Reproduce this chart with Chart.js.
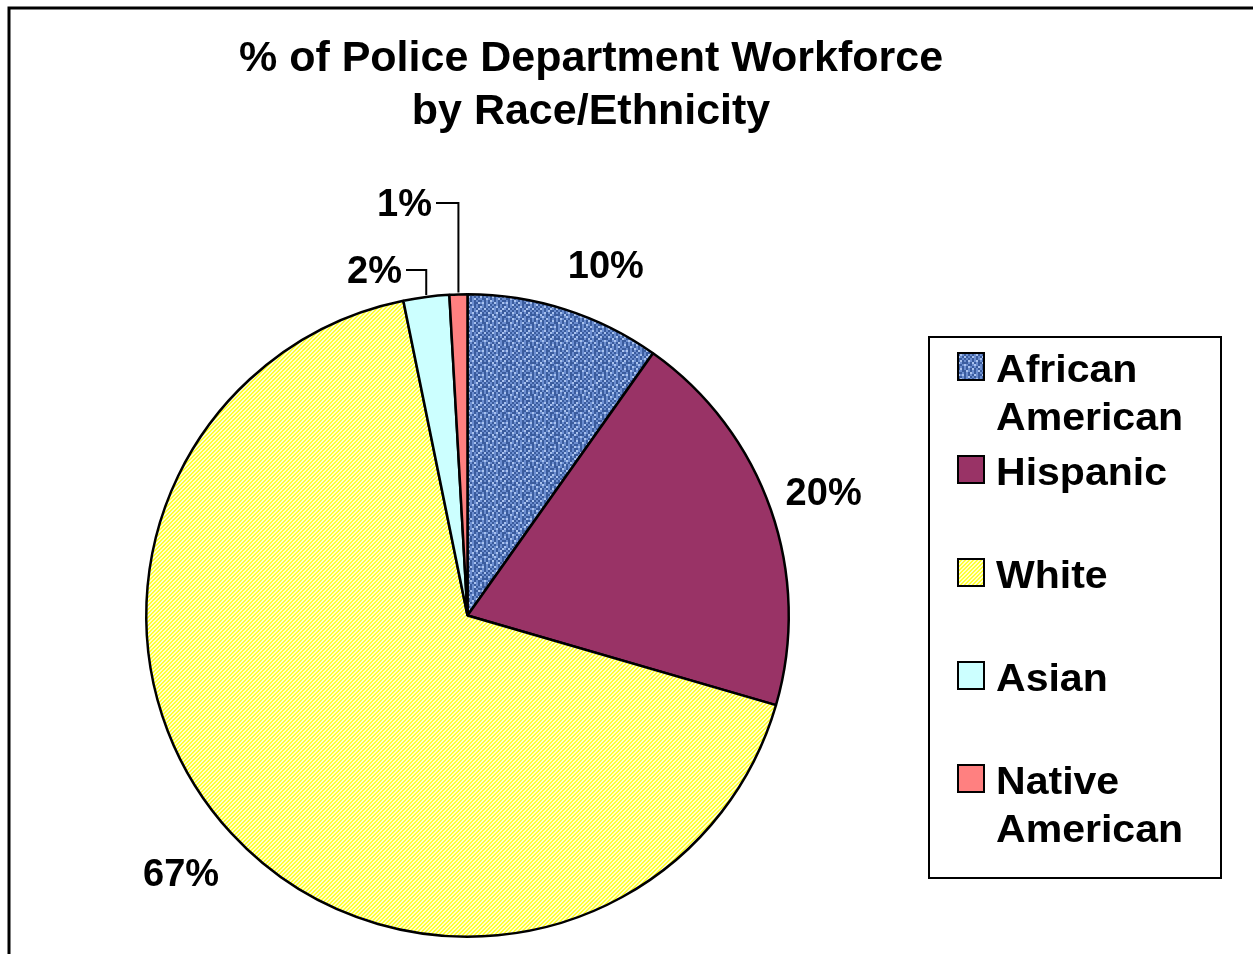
<!DOCTYPE html>
<html>
<head>
<meta charset="utf-8">
<script src="https://cdn.jsdelivr.net/npm/chart.js@4.4.0/dist/chart.umd.min.js"></script>
<style>
  html, body { margin: 0; padding: 0; background: #fff; }
  #wrap { width: 1253px; height: 954px; position: relative; }
</style>
</head>
<body>
<div id="wrap"><canvas id="pieChart" width="1253" height="954"></canvas></div>
<script>
// chart values
const categories = ['African American', 'Hispanic', 'White', 'Asian', 'Native American'];
const shares = [9.8, 19.7, 67.3, 2.3, 0.9];
const chartTitle = ['% of Police Department Workforce', 'by Race/Ethnicity'];

const FONT = '"Liberation Sans", Arial, sans-serif';

// blue woven texture for African American
function wovenPattern() {
  const rows = [
    'ldmdlmdmldmd',
    'mdddmdldmddl',
    'dmlmddmlmdmd',
    'mdmdlmdmdlmd',
    'ldmdmdldmdmd',
    'mddlmdmdmldm',
    'dmdmdlmdmdmd',
    'mldmdmdlmddl',
    'dmdmldmdmdmd',
    'lmdmdmdmldmd',
    'mdldmdlmdmdl',
    'dmdmdmdmdmld'
  ];
  const colors = { l: '#a9c2ee', m: '#6b8dcf', d: '#3a5c9e' };
  const c = document.createElement('canvas');
  c.width = 24; c.height = 24;
  const g = c.getContext('2d');
  // each map cell is 2x2 px to get a coarser weave
  rows.forEach((row, y) => {
    for (let x = 0; x < row.length; x++) {
      g.fillStyle = colors[row[x]];
      g.fillRect(x * 2, y * 2, 2, 2);
    }
  });
  return g.createPattern(c, 'repeat');
}

// fine diagonal yellow hatch for White
function hatchPattern() {
  const c = document.createElement('canvas');
  c.width = 4; c.height = 4;
  const g = c.getContext('2d');
  for (let y = 0; y < 4; y++) {
    for (let x = 0; x < 4; x++) {
      g.fillStyle = ((x + y) % 4 < 2) ? '#ffff33' : '#ffffd0';
      g.fillRect(x, y, 1, 1);
    }
  }
  return g.createPattern(c, 'repeat');
}

const ctx = document.getElementById('pieChart').getContext('2d');
const fills = [wovenPattern(), '#993366', hatchPattern(), '#ccffff', '#ff8080'];

// nudges for the outside labels (px)
const labelNudge = [[24, 12], [0, 3], [-9, 4]];

const decorations = {
  id: 'decorations',
  afterDraw(chart) {
    const c = chart.ctx;
    const arcs = chart.getDatasetMeta(0).data;
    c.save();

    // outer frame
    c.strokeStyle = '#000';
    c.lineWidth = 3;
    c.strokeRect(9, 8, 2000, 2000);

    // title
    c.fillStyle = '#000';
    c.textAlign = 'center';
    c.textBaseline = 'alphabetic';
    c.font = 'bold 43px ' + FONT;
    c.fillText(chartTitle[0], 591, 71);
    c.fillText(chartTitle[1], 591, 124);

    // data labels
    c.font = 'bold 38px ' + FONT;
    c.textBaseline = 'middle';
    arcs.forEach((arc, i) => {
      const p = arc.getProps(['x', 'y', 'startAngle', 'endAngle', 'outerRadius'], true);
      const mid = (p.startAngle + p.endAngle) / 2;
      const text = Math.round(shares[i]) + '%';
      if (i < 3) {
        const r = p.outerRadius + 56;
        const lx = p.x + Math.cos(mid) * r + labelNudge[i][0];
        const ly = p.y + Math.sin(mid) * r + labelNudge[i][1];
        c.textAlign = 'center';
        c.fillText(text, lx, ly);
      } else {
        // small slices: leader line up then left
        const ex = p.x + Math.cos(mid) * p.outerRadius;
        const ey = p.y + Math.sin(mid) * p.outerRadius;
        const ty = i === 3 ? 270 : 203;
        const tx = i === 3 ? 406 : 436;
        c.lineWidth = 2;
        c.beginPath();
        c.moveTo(ex, ey - 2);
        c.lineTo(ex, ty);
        c.lineTo(tx, ty);
        c.stroke();
        c.textAlign = 'right';
        c.fillText(text, tx - 4, ty + 3);
      }
    });

    // legend
    c.lineWidth = 2;
    c.strokeRect(929, 337, 292, 541);
    c.font = 'bold 38px ' + FONT;
    c.textAlign = 'left';
    c.textBaseline = 'alphabetic';
    categories.forEach((name, i) => {
      const top = 353 + i * 103;
      c.fillStyle = fills[i];
      c.fillRect(958, top, 26, 27);
      c.lineWidth = 2;
      c.strokeStyle = '#000';
      c.strokeRect(958, top, 26, 27);
      c.fillStyle = '#000';
      const words = name.split(' ');
      words.forEach((w, j) => {
        c.save();
        c.translate(996, top + 29 + j * 48);
        c.scale(1.08, 1);
        c.fillText(w, 0, 0);
        c.restore();
      });
    });

    c.restore();
  }
};

new Chart(ctx, {
  type: 'pie',
  data: {
    labels: categories,
    datasets: [{
      data: shares,
      backgroundColor: fills,
      borderColor: '#000',
      borderWidth: 2.5
    }]
  },
  options: {
    responsive: false,
    animation: false,
    layout: {
      padding: { left: 145, right: 463, top: 293, bottom: 16 }
    },
    plugins: {
      legend: { display: false },
      title: { display: false },
      tooltip: { enabled: false }
    }
  },
  plugins: [decorations]
});
</script>
</body>
</html>
